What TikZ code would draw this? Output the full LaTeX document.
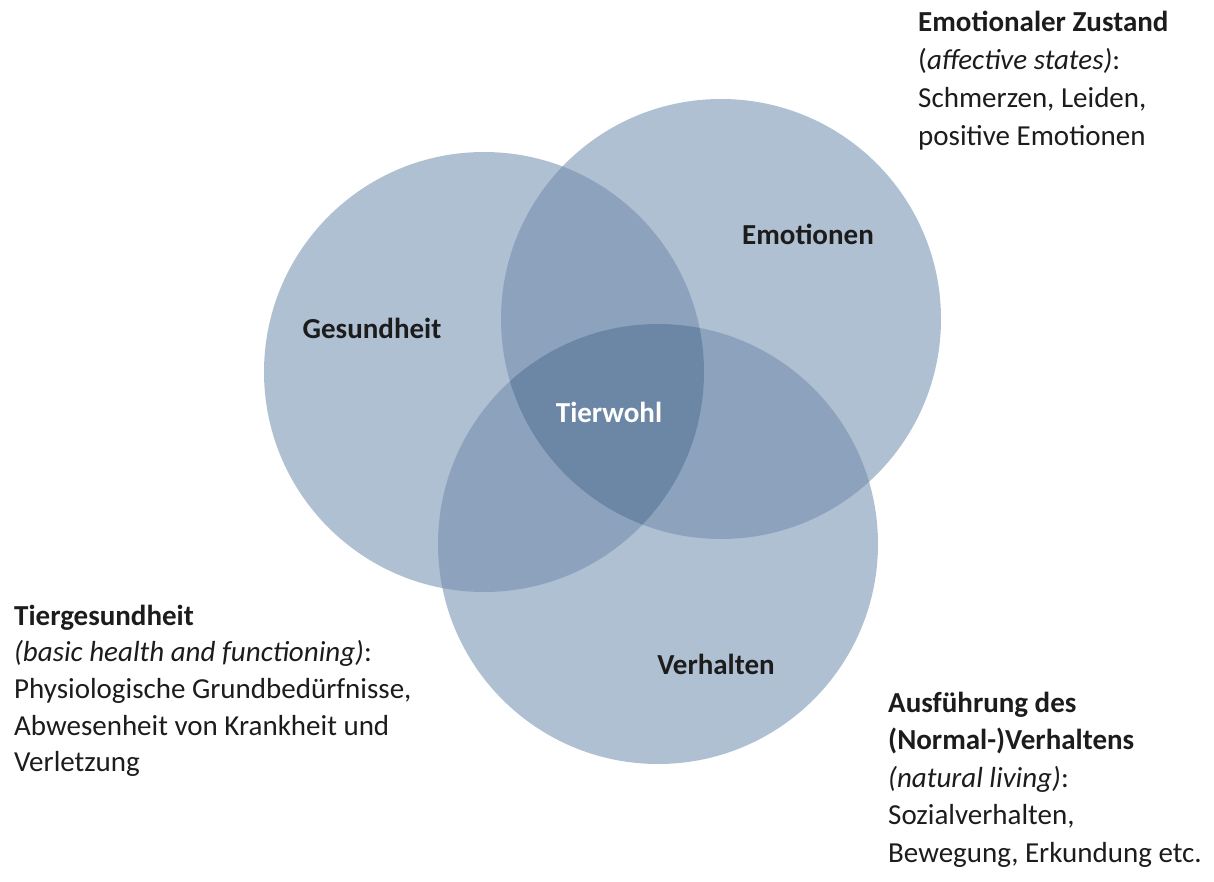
\documentclass[tikz,border=0pt]{standalone}
\usepackage{fontspec}
\setmainfont{Carlito}
\definecolor{cone}{HTML}{B0C0D3}
\definecolor{ctwo}{HTML}{8DA3BD}
\definecolor{cthree}{HTML}{6C87A6}
\definecolor{ink}{HTML}{1C1C1C}
\tikzset{
  circlabel/.style={font=\fontsize{29}{35}\selectfont\bfseries, text=ink, inner sep=0pt, anchor=base},
  centerlabel/.style={font=\fontsize{29}{35}\selectfont\bfseries, text=white, inner sep=0pt, anchor=base},
  noteline/.style={font=\fontsize{29}{37}\selectfont, text=ink, inner sep=0pt, anchor=base west},
  notehead/.style={noteline, font=\fontsize{29}{37}\selectfont\bfseries}
}
\begin{document}
\begin{tikzpicture}[x=1pt,y=-1pt]
\useasboundingbox (0,0) rectangle (1214,882);
\coordinate (cG) at (484,372);
\coordinate (cE) at (721,319);
\coordinate (cV) at (658,544);
% single circles
\fill[cone] (cG) circle (220pt);
\fill[cone] (cE) circle (220pt);
\fill[cone] (cV) circle (220pt);
% pairwise overlaps
\begin{scope}
  \clip (cG) circle (220pt);
  \fill[ctwo] (cE) circle (220pt);
  \fill[ctwo] (cV) circle (220pt);
\end{scope}
\begin{scope}
  \clip (cE) circle (220pt);
  \fill[ctwo] (cV) circle (220pt);
\end{scope}
% triple overlap
\begin{scope}
  \clip (cG) circle (220pt);
  \clip (cE) circle (220pt);
  \fill[cthree] (cV) circle (220pt);
\end{scope}
% circle labels
\node[circlabel] (lG) at (372,338) {Gesundheit};
\node[circlabel] (lE) at (808,245) {Emotionen};
\node[centerlabel] (lT) at (609,422) {Tierwohl};
\node[circlabel] (lV) at (716,674) {Verhalten};
% top right note
\node[notehead] (e1) at (918,32) {Emotionaler Zustand};
\node[noteline] (e2) at (918,70) {(\textit{affective states)}:};
\node[noteline] (e3) at (918,108) {Schmerzen, Leiden,};
\node[noteline] (e4) at (918,146) {positive Emotionen};
% bottom left note
\node[notehead] (g1) at (14,625) {Tiergesundheit};
\node[noteline] (g2) at (14,661.5) {\textit{(basic health and functioning)}:};
\node[noteline] (g3) at (14,698) {Physiologische Grundbedürfnisse,};
\node[noteline] (g4) at (14,735) {Abwesenheit von Krankheit und};
\node[noteline] (g5) at (14,771) {Verletzung};
% bottom right note
\node[notehead] (v1) at (888,712) {Ausführung des};
\node[notehead] (v2) at (888,749.5) {(Normal-)Verhaltens};
\node[noteline] (v3) at (888,787) {\textit{(natural living)}:};
\node[noteline] (v4) at (888,824.5) {Sozialverhalten,};
\node[noteline] (v5) at (888,862) {Bewegung, Erkundung etc.};
\end{tikzpicture}
\end{document}
